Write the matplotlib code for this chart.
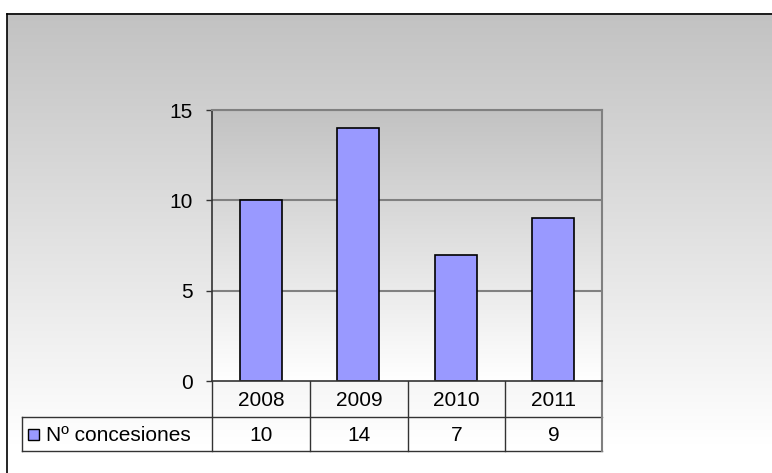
import matplotlib.pyplot as plt
import numpy as np
from matplotlib.colors import LinearSegmentedColormap
from matplotlib.patches import Rectangle

# datos
years = ["2008", "2009", "2010", "2011"]
concesiones = [10, 14, 7, 9]
serie = "Nº concesiones"
yticks = [0, 5, 10, 15]

W, H = 772, 473
plt.rcParams["font.family"] = ["Liberation Sans", "DejaVu Sans"]

fig = plt.figure(figsize=(W / 100, H / 100), dpi=100)

# fondo del grafico (degradado gris -> blanco) en coordenadas de pixel
bg = fig.add_axes([0, 0, 1, 1], zorder=-1)
bg.set_xlim(0, W)
bg.set_ylim(H, 0)
bg.axis("off")
cmap = LinearSegmentedColormap.from_list("g", ["#c2c2c2", "#ffffff"])
grad = np.linspace(0, 1, 256).reshape(-1, 1)
bg.imshow(grad, cmap=cmap, extent=[7, W, 445, 14], aspect="auto", zorder=0)
bg.plot([7, W], [14, 14], color="black", lw=1.2)
bg.plot([7, 7], [14, H], color="black", lw=1.2)

# area de trazado
x0, x1, ytop, ybot = 212, 602, 110, 381
ax = fig.add_axes([x0 / W, (H - ybot) / H, (x1 - x0) / W, (ybot - ytop) / H])
x = np.arange(len(years))
ax.set_xlim(-0.5, len(years) - 0.5)
ax.set_ylim(0, 15)
ax.imshow(grad, cmap=cmap, extent=[-0.5, 3.5, 0, 15], aspect="auto", zorder=0)
for t in yticks[1:]:
    ax.axhline(t, color="#808080", lw=1.5, zorder=1)
ax.bar(x, concesiones, width=0.43, color="#9999ff", edgecolor="black", lw=1.2, zorder=2)
ax.set_yticks(yticks)
ax.set_xticks([])
ax.tick_params(axis="y", length=4, width=1, color="#333333", pad=10, labelsize=15)
for s in ["top", "right"]:
    ax.spines[s].set_color("#808080")
    ax.spines[s].set_linewidth(1.5)
for s in ["left", "bottom"]:
    ax.spines[s].set_color("#333333")
    ax.spines[s].set_linewidth(1.2)

# tabla de datos
cols = [212, 310, 408, 505, 602]
r0, r1, r2 = 381, 417, 451
lc = "#333333"
bg.plot([22, 602], [r1, r1], color=lc, lw=1)
bg.plot([22, 602], [r2, r2], color=lc, lw=1)
bg.plot([22, 22], [r1, r2], color=lc, lw=1)
for cx in cols[:-1]:
    bg.plot([cx, cx], [r0, r2], color=lc, lw=1)
bg.plot([602, 602], [r0, r2], color="#808080", lw=1.5)
for i, yr in enumerate(years):
    cx = (cols[i] + cols[i + 1]) / 2
    bg.text(cx, (r0 + r1) / 2 + 1, yr, ha="center", va="center", fontsize=15)
    bg.text(cx, (r1 + r2) / 2 + 1, str(concesiones[i]), ha="center", va="center", fontsize=15)
bg.add_patch(Rectangle((28, 429), 11, 11, facecolor="#9999ff", edgecolor="black", lw=1))
bg.text(46, (r1 + r2) / 2 + 1, serie, ha="left", va="center", fontsize=15)

fig.savefig("out.png", dpi=100)
